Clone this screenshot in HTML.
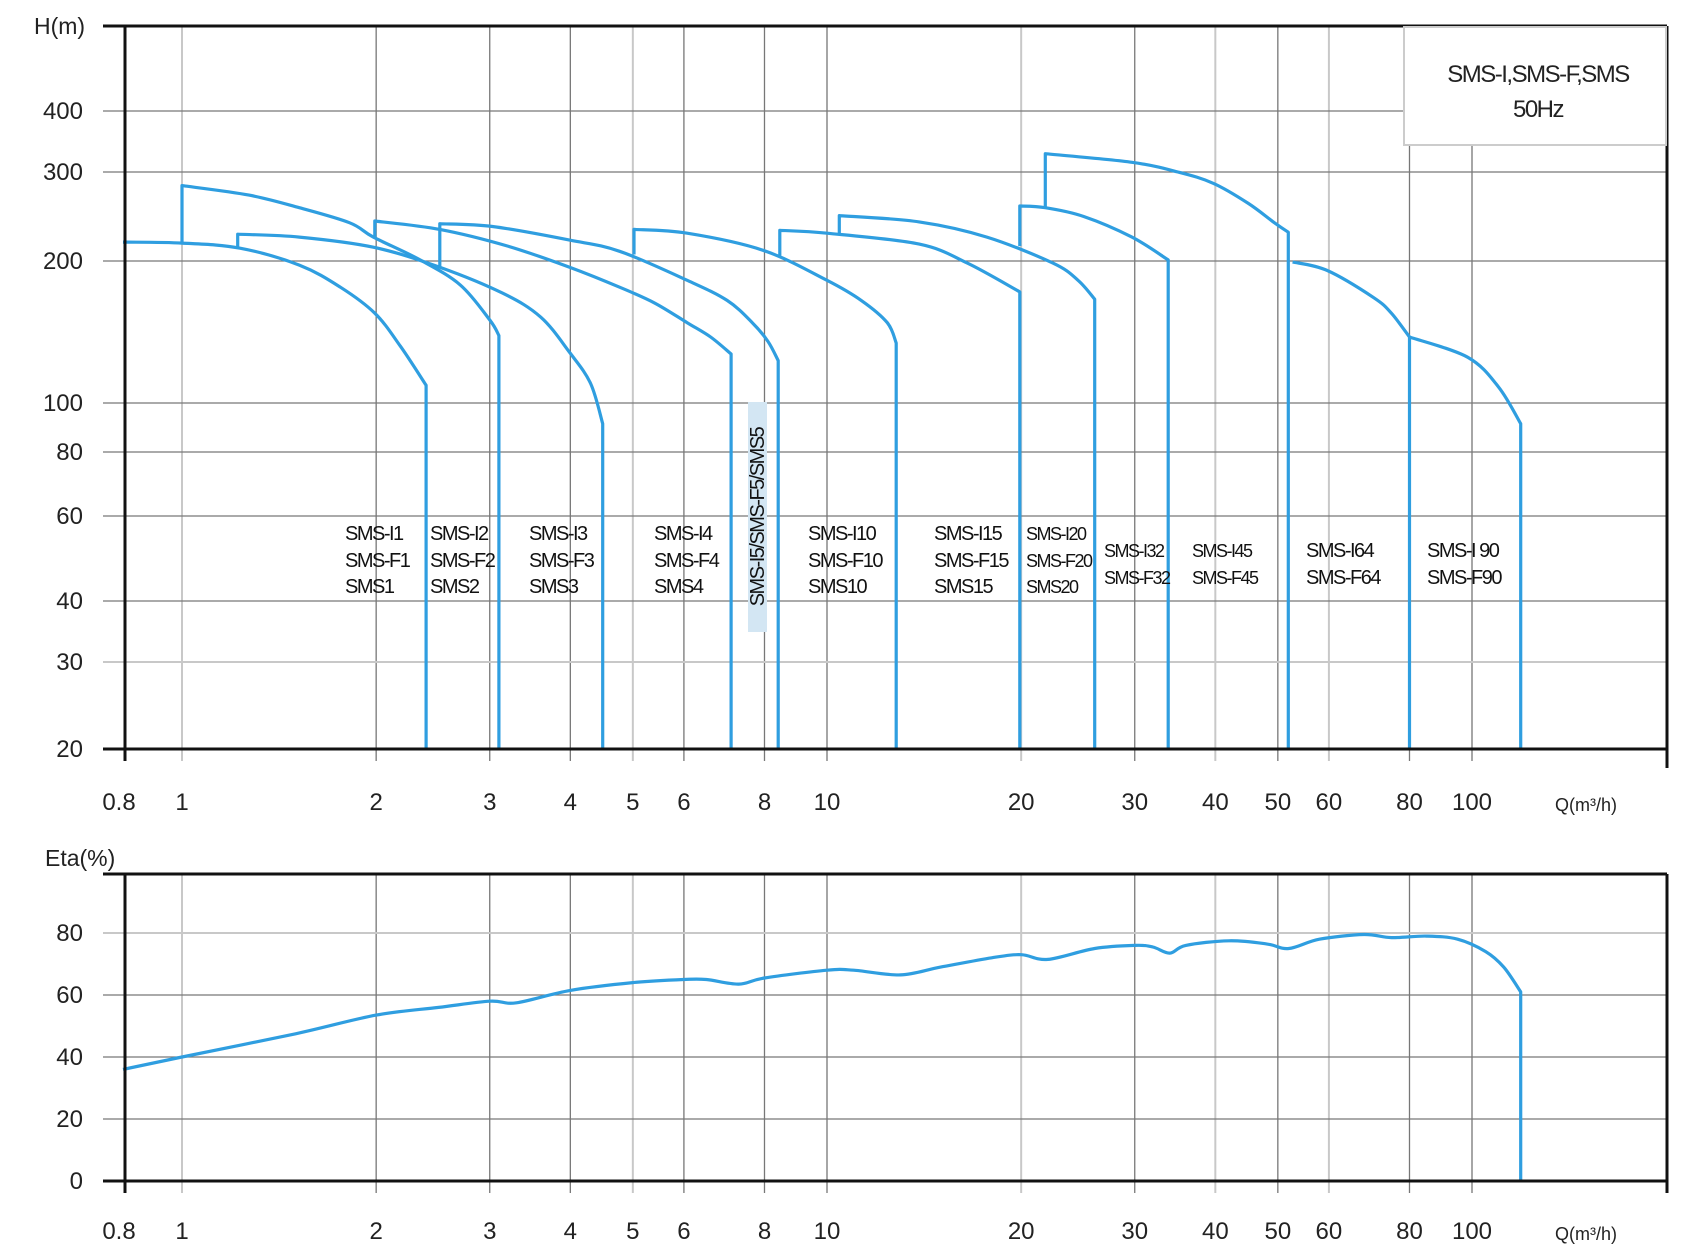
<!DOCTYPE html>
<html><head><meta charset="utf-8"><style>
html,body{margin:0;padding:0;background:#fff;}
svg{display:block;font-family:"Liberation Sans",sans-serif;}
</style></head><body>
<svg id="chart" width="1684" height="1250" viewBox="0 0 1684 1250" xmlns="http://www.w3.org/2000/svg">
<g id="grid"></g><g id="curves"></g><g id="axes"></g><g id="labels"></g>
</svg>
<script>
// ---- data ----
const qTicks=[1,2,3,4,5,6,8,10,20,30,40,50,60,80,100];
const qTickLabels=["1","2","3","4","5","6","8","10","20","30","40","50","60","80","100"];
const qLight=[1,5,20,40,60];
const hTicks=[20,30,40,60,80,100,200,300,400];
const hTickPx=[749,662,601,516,452,403,261,172,111]; // axis calibration of non-uniform printed scale
const etaTicks=[0,20,40,60,80];
const sms1=[[0.81,218],[1,217],[1.23,212],[1.52,196],[1.76,176],[1.99,155],[2.18,132],[2.39,109]];
const sms2=[[1,217],[1,282],[1.27,270],[1.52,255],[1.82,238],[1.98,223],[2.34,201],[2.7,178],[3.0,150],[3.1,139]];
const sms3=[[1.22,212],[1.22,226],[1.52,223],[1.98,213],[2.51,194],[3.14,171],[3.6,152],[3.99,128],[4.3,110],[4.49,91]];
const sms4=[[1.99,223],[1.99,240],[2.51,231],[3.2,214],[3.99,194],[4.77,176],[5.4,163],[6.07,148],[6.6,138],[7.1,127]];
const sms5=[[2.51,194],[2.51,237],[3.03,234],[3.99,220],[4.77,209],[6.07,182],[7.0,165],[7.66,148],[8.1,135],[8.4,123]];
const sms10=[[5.02,206],[5.02,231],[6.07,227],[7.96,210],[10,182],[11.3,165],[12.4,148],[12.8,134]];
const sms15=[[8.45,205],[8.45,230],[10,227],[13.9,216],[16.5,198],[19.9,172]];
const sms20=[[10.45,227],[10.45,246],[13.9,239],[17.7,223],[22.4,198],[24.5,182],[26,166]];
const sms32=[[19.9,214],[19.9,257],[21.8,255],[25,245],[29.7,223],[33.8,201]];
const sms45=[[21.8,255],[21.8,327],[29.7,314],[35,300],[39.7,285],[45,260],[49.4,238],[51.9,228]];
const sms64=[[52.7,199],[59.6,191],[70.5,167],[75,155],[80,138]];
const sms90=[[80,138],[98.5,125],[110,108],[119,91]];
const seriesList=[["sms1",sms1],["sms2",sms2],["sms3",sms3],["sms4",sms4],["sms5",sms5],["sms10",sms10],["sms15",sms15],["sms20",sms20],["sms32",sms32],["sms45",sms45],["sms64",sms64],["sms90",sms90]];
const etaQ=[0.81,1,1.5,2,2.5,3,3.3,4,5,6,6.5,7.3,8,10,11,13,15,18,20,22,26,30,32,34,36,42,48,52,58,68,75,85,95,105,112,119];
const etaV=[36,40,47.5,53.5,56,58,57.5,61.5,64,65,65,63.5,65.5,68,68,66.5,69,72,73,71.5,75,76,75.5,73.5,76,77.5,76.5,75,78,79.5,78.5,79,78,74,69,61];
// ---- scales ----
const X0=182,PXD=645,LEFT=125,RIGHT=1667;
function xs(q){return X0+PXD*Math.log10(q);}
function yH(h){
  for(let i=0;i<hTicks.length-1;i++){
    if(h<=hTicks[i+1]||i==hTicks.length-2){
      const a=hTicks[i],b=hTicks[i+1];
      const t=(Math.log(h)-Math.log(a))/(Math.log(b)-Math.log(a));
      return hTickPx[i]+t*(hTickPx[i+1]-hTickPx[i]);
    }}
}
const ET0=1181,ETK=3.1;
function yE(v){return ET0-ETK*v;}
// smooth path: vertical riser as line, rest Catmull-Rom
function smooth(P){
  let d='M'+P[0][0].toFixed(1)+','+P[0][1].toFixed(1);
  let s=0;
  if(P.length>1&&Math.abs(P[1][0]-P[0][0])<0.5){d+='L'+P[1][0].toFixed(1)+','+P[1][1].toFixed(1);s=1;}
  for(let i=s;i<P.length-1;i++){
    const p0=P[Math.max(s,i-1)],p1=P[i],p2=P[i+1],p3=P[Math.min(P.length-1,i+2)];
    const c1x=p1[0]+(p2[0]-p0[0])/6,c1y=p1[1]+(p2[1]-p0[1])/6;
    const c2x=p2[0]-(p3[0]-p1[0])/6,c2y=p2[1]-(p3[1]-p1[1])/6;
    d+='C'+c1x.toFixed(1)+','+c1y.toFixed(1)+' '+c2x.toFixed(1)+','+c2y.toFixed(1)+' '+p2[0].toFixed(1)+','+p2[1].toFixed(1);
  }
  return d;
}
const NS="http://www.w3.org/2000/svg";
function mk(tag,attrs,parent){const e=document.createElementNS(NS,tag);for(const k in attrs)e.setAttribute(k,attrs[k]);parent.appendChild(e);return e;}
const grid=document.getElementById('grid'),curves=document.getElementById('curves'),axes=document.getElementById('axes'),labels=document.getElementById('labels');
qTicks.forEach((q,i)=>{
  const x=xs(q),col=qLight.includes(q)?'#c8c8c8':'#777';
  let l=mk('line',{x1:x,y1:26,x2:x,y2:761,stroke:col,'stroke-width':qLight.includes(q)?2:1.3},grid);
  
  
  l=mk('line',{x1:x,y1:874,x2:x,y2:1193,stroke:col,'stroke-width':qLight.includes(q)?2:1.3},grid);
  
  
  let t=mk('text',{x:x,y:810,'font-size':24,'text-anchor':'middle',fill:'#222'},labels);t.textContent=qTickLabels[i];
  
  
  t=mk('text',{x:x,y:1239,'font-size':24,'text-anchor':'middle',fill:'#222'},labels);t.textContent=qTickLabels[i];
  
  
});
hTicks.forEach(h=>{
  const y=yH(h);
  let l=mk('line',{x1:103,y1:y,x2:RIGHT,y2:y,stroke:h==30?'#c8c8c8':'#777','stroke-width':h==30?2:1.3},grid);
  
  
  let t=mk('text',{x:83,y:y+8,'font-size':24,'text-anchor':'end',fill:'#222'},labels);t.textContent=h;
  
  
});
etaTicks.forEach(v=>{
  const y=yE(v);
  let l=mk('line',{x1:103,y1:y,x2:RIGHT,y2:y,stroke:v==80?'#c8c8c8':'#777','stroke-width':v==80?2:1.3},grid);
  
  
  let t=mk('text',{x:83,y:y+8,'font-size':24,'text-anchor':'end',fill:'#222'},labels);t.textContent=v;
  
  
});
seriesList.forEach(([name,pts])=>{
  const P=pts.map(p=>[xs(p[0]),yH(p[1])]);
  const last=P[P.length-1];
  const d=smooth(P)+'L'+last[0].toFixed(1)+','+yH(20).toFixed(1);
  const p=mk('path',{d:d,fill:'none',stroke:'#2f9ee0','stroke-width':3.2,'stroke-linejoin':'round'},curves);
  
  
});
{const P=etaQ.map((q,i)=>[xs(q),yE(etaV[i])]);
 const last=P[P.length-1];
 const d=smooth(P)+'L'+last[0].toFixed(1)+','+yE(0);
 const p=mk('path',{d:d,fill:'none',stroke:'#2f9ee0','stroke-width':3.2,'stroke-linejoin':'round'},curves);
 
 }
[[103,26,RIGHT,26],[LEFT,26,LEFT,761],[103,749,RIGHT,749],[RIGHT,26,RIGHT,768],
 [103,874,RIGHT,874],[LEFT,874,LEFT,1193],[103,1181,RIGHT,1181],[RIGHT,874,RIGHT,1193]].forEach(a=>{
  const l=mk('line',{x1:a[0],y1:a[1],x2:a[2],y2:a[3],stroke:'#111','stroke-width':3},axes);
  
  
});
</script>
<svg style="position:absolute;left:0;top:0" width="1684" height="1250" font-family="Liberation Sans, sans-serif">
<rect x="1404" y="27" width="262" height="118" fill="#fff" stroke="#ccc" stroke-width="2"/>
<text x="1538" y="82" font-size="24" text-anchor="middle" letter-spacing="-1.5" fill="#222">SMS-I,SMS-F,SMS</text>
<text x="1538" y="117" font-size="24" text-anchor="middle" letter-spacing="-1.5" fill="#222">50Hz</text>
<text x="34" y="34" font-size="23" fill="#222">H(m)</text>
<text x="45" y="866" font-size="23" fill="#222">Eta(%)</text>
<text x="119" y="810" font-size="24" text-anchor="middle" fill="#222">0.8</text>
<text x="119" y="1239" font-size="24" text-anchor="middle" fill="#222">0.8</text>
<text x="1555" y="811" font-size="18" fill="#222">Q(m³/h)</text>
<text x="1555" y="1240" font-size="18" fill="#222">Q(m³/h)</text>
<g font-size="20" letter-spacing="-1.5" fill="#111">
<text x="345" y="540"><tspan x="345">SMS-I1</tspan><tspan x="345" y="567">SMS-F1</tspan><tspan x="345" y="593">SMS1</tspan></text>
<text x="430" y="540"><tspan x="430">SMS-I2</tspan><tspan x="430" y="567">SMS-F2</tspan><tspan x="430" y="593">SMS2</tspan></text>
<text x="529" y="540"><tspan x="529">SMS-I3</tspan><tspan x="529" y="567">SMS-F3</tspan><tspan x="529" y="593">SMS3</tspan></text>
<text x="654" y="540"><tspan x="654">SMS-I4</tspan><tspan x="654" y="567">SMS-F4</tspan><tspan x="654" y="593">SMS4</tspan></text>
<text x="808" y="540"><tspan x="808">SMS-I10</tspan><tspan x="808" y="567">SMS-F10</tspan><tspan x="808" y="593">SMS10</tspan></text>
<text x="934" y="540"><tspan x="934">SMS-I15</tspan><tspan x="934" y="567">SMS-F15</tspan><tspan x="934" y="593">SMS15</tspan></text>
<text x="1026" y="540" font-size="18"><tspan x="1026">SMS-I20</tspan><tspan x="1026" y="567">SMS-F20</tspan><tspan x="1026" y="593">SMS20</tspan></text>
<text x="1104" y="557" font-size="18"><tspan x="1104">SMS-I32</tspan><tspan x="1104" y="584">SMS-F32</tspan></text>
<text x="1192" y="557" font-size="18"><tspan x="1192">SMS-I45</tspan><tspan x="1192" y="584">SMS-F45</tspan></text>
<text x="1306" y="557"><tspan x="1306">SMS-I64</tspan><tspan x="1306" y="584">SMS-F64</tspan></text>
<text x="1427" y="557"><tspan x="1427">SMS-I 90</tspan><tspan x="1427" y="584">SMS-F90</tspan></text>
<rect x="748" y="402" width="19" height="230" fill="#d3e6f3"/>
<text transform="translate(764,517) rotate(-90)" text-anchor="middle">SMS-I5/SMS-F5/SMS5</text>
</g>
</svg>
</body></html>
